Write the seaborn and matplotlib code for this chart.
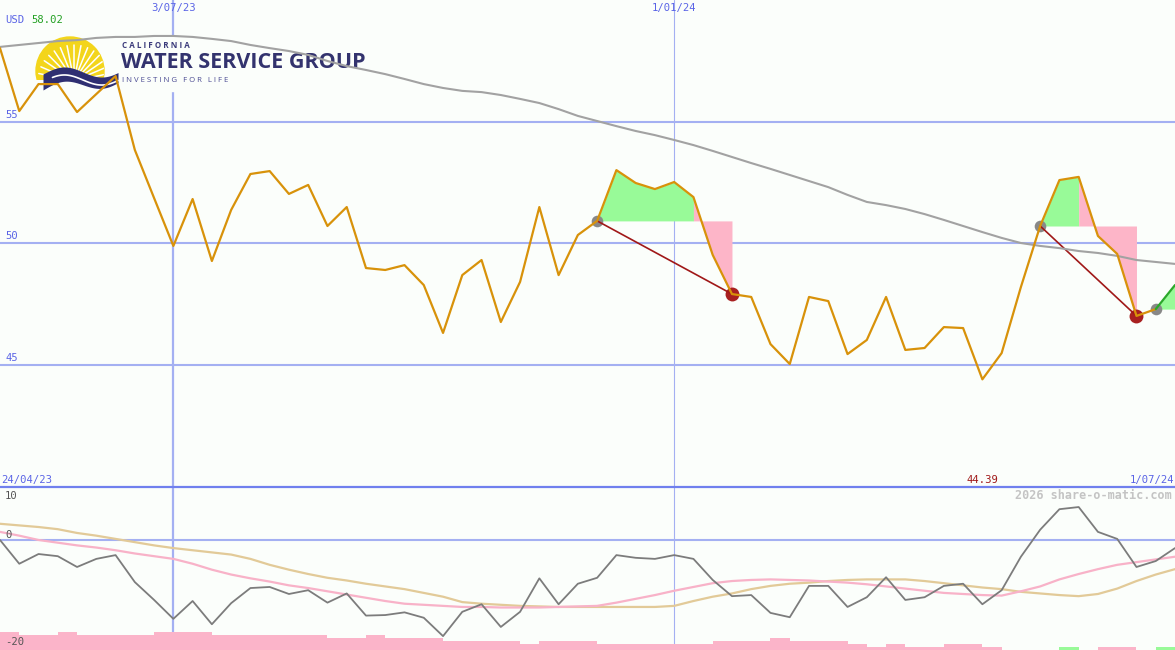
import matplotlib
matplotlib.use("Agg")
import matplotlib.pyplot as plt
import matplotlib.patches as mpatches
from matplotlib.transforms import Affine2D
import numpy as np
import pandas as pd
import seaborn as sns

sns.set_theme(style="white")
plt.rcParams['font.family'] = ['DejaVu Sans Mono', 'DejaVu Sans']

# weekly closes, first week starting 1 May 2023
start_date = "2023-05-01"
price = [58.02, 55.43, 56.54, 56.54, 55.39, 56.13, 56.87, 53.83, 51.85, 49.88,
         51.81, 49.26, 51.36, 52.84, 52.96, 52.02, 52.39, 50.70, 51.48, 48.97,
         48.89, 49.09, 48.27, 46.30, 48.68, 49.30, 46.75, 48.40, 51.48, 48.68,
         50.33, 50.91, 53.00, 52.47, 52.22, 52.51, 51.89, 49.51, 47.90, 47.78,
         45.84, 45.02, 47.78, 47.61, 45.43, 46.01, 47.78, 45.60, 45.68, 46.54,
         46.50, 44.39, 45.47, 48.19, 50.70, 52.59, 52.72, 50.29, 49.55, 47.00,
         47.28, 48.27]
price_ma = [58.07, 58.15, 58.23, 58.31, 58.35, 58.44, 58.48, 58.48, 58.52, 58.52,
            58.48, 58.40, 58.31, 58.15, 58.02, 57.90, 57.74, 57.49, 57.28, 57.12,
            56.95, 56.75, 56.54, 56.38, 56.26, 56.21, 56.09, 55.93, 55.76, 55.51,
            55.23, 55.02, 54.81, 54.61, 54.44, 54.24, 54.03, 53.79, 53.54, 53.29,
            53.05, 52.80, 52.55, 52.30, 51.98, 51.69, 51.56, 51.40, 51.19, 50.95,
            50.70, 50.45, 50.21, 50.00, 49.88, 49.79, 49.67, 49.59, 49.47, 49.30,
            49.22, 49.14]
osc = [0.0, -4.4, -2.6, -3.0, -5.0, -3.5, -2.8, -7.8, -11.1, -14.6,
       -11.3, -15.6, -11.7, -8.9, -8.7, -10.0, -9.3, -11.6, -9.9, -14.0,
       -13.9, -13.4, -14.4, -17.8, -13.3, -11.9, -16.1, -13.3, -7.1, -11.9,
       -8.1, -7.0, -2.8, -3.3, -3.5, -2.8, -3.5, -7.4, -10.4, -10.2,
       -13.5, -14.3, -8.5, -8.5, -12.4, -10.6, -6.9, -11.1, -10.6, -8.5,
       -8.1, -11.9, -9.3, -3.1, 1.9, 5.7, 6.1, 1.5, 0.2, -5.0,
       -3.9, -1.5]
osc_mid = [1.5, 0.8, 0.0, -0.5, -1.0, -1.4, -1.9, -2.5, -3.0, -3.5,
           -4.4, -5.5, -6.4, -7.1, -7.7, -8.4, -8.9, -9.5, -10.1, -10.7,
           -11.3, -11.8, -12.0, -12.2, -12.4, -12.4, -12.5, -12.5, -12.5, -12.4,
           -12.3, -12.2, -11.6, -10.9, -10.2, -9.4, -8.7, -8.0, -7.6, -7.4,
           -7.3, -7.4, -7.5, -7.7, -7.9, -8.2, -8.6, -9.0, -9.4, -9.8,
           -10.0, -10.2, -10.3, -9.5, -8.6, -7.3, -6.3, -5.4, -4.6, -4.1,
           -3.6, -3.1]
osc_slow = [3.0, 2.7, 2.4, 2.0, 1.3, 0.8, 0.2, -0.4, -1.0, -1.5,
            -1.9, -2.3, -2.7, -3.5, -4.6, -5.5, -6.3, -7.0, -7.5, -8.1,
            -8.6, -9.1, -9.8, -10.5, -11.5, -11.8, -12.0, -12.2, -12.3, -12.4,
            -12.4, -12.4, -12.4, -12.4, -12.4, -12.2, -11.3, -10.5, -9.9, -9.1,
            -8.5, -8.1, -7.9, -7.6, -7.4, -7.3, -7.3, -7.3, -7.6, -8.0,
            -8.4, -8.8, -9.1, -9.6, -9.9, -10.2, -10.4, -10.0, -9.0, -7.6,
            -6.4, -5.4]
# signal strength bars (negative = pink, positive = green)
signal = [-6, -5, -5, -6, -5, -5, -5, -5, -6, -6,
          -6, -5, -5, -5, -5, -5, -5, -4, -4, -5,
          -4, -4, -4, -3, -3, -3, -3, -2, -3, -3,
          -3, -2, -2, -2, -2, -2, -2, -3, -3, -3,
          -4, -3, -3, -3, -2, -1, -2, -1, -1, -2,
          -2, -1, 0, 0, 0, 1, 0, -1, -1, 0,
          1, 0]

trades = [(31, 38), (54, 59)]   # entry week, exit week
open_entry = 60

marked_dates = ["2023-07-03", "2024-01-01"]
marked_labels = ["3/07/23", "1/01/24"]
first_label = "24/04/23"
last_label = "1/07/24"
price_ticks = [45, 50, 55]
osc_ticks = [10, 0, -20]
currency = "USD"

weeks = np.arange(len(price))
df = pd.DataFrame({"week": weeks, "price": price, "ma": price_ma,
                   "osc": osc, "mid": osc_mid, "slow": osc_slow, "signal": signal})

bg = "#fbfefb"
grid_c = "#a4b0f2"
label_c = "#5a64e6"
fs = 7.6

fig = plt.figure(figsize=(11.75, 6.5), dpi=100, facecolor=bg)
# pixel transform (x from left, y from top)
px = Affine2D().scale(1 / 1175, -1 / 650).translate(0, 1) + fig.transFigure

ax = fig.add_axes([0, 163 / 650, 1, 487 / 650])
ax.set_axis_off()
ax.set_xlim(0, len(price) - 1)
ax.set_ylim(39.96, 60.0)

ax2 = fig.add_axes([0, 0, 1, 163 / 650])
ax2.set_axis_off()
ax2.set_xlim(0, len(price) - 1)
ax2.set_ylim(-20.37, 9.81)

start = pd.Timestamp(start_date)
marked_x = [(pd.Timestamp(d) - start).days / 7 for d in marked_dates]

# grid
for p in price_ticks:
    ax.axhline(p, color=grid_c, lw=1.5, zorder=1)
    ax.text(0.27, p + 0.08, str(p), color=label_c, fontsize=fs, va="bottom", ha="left")
for x, lab, w in zip(marked_x, marked_labels, [1.6, 0.8]):
    ax.axvline(x, color=grid_c, lw=w, zorder=1)
    ax2.axvline(x, color=grid_c, lw=w, zorder=1)
    ax.text(x, 0.984, lab, transform=ax.get_xaxis_transform(), color=label_c,
            fontsize=fs, ha="center", va="center")
ax2.axhline(0, color=grid_c, lw=1.5, zorder=1)

# logo (drawn behind the series)
ax.add_patch(mpatches.Rectangle((30, 36), 345, 55, transform=px, color=bg, zorder=1.5))
sun = mpatches.Circle((70, 71), 34, transform=px, color="#f3d51b", zorder=1.6)
ax.add_patch(sun)
clip = mpatches.Rectangle((30, 30), 100, 50, transform=px)
sun.set_clip_path(clip)
for a in np.linspace(12, 168, 15):
    t = np.radians(a)
    ray, = ax.plot([74 + 9 * np.cos(t), 74 + 36 * np.cos(t)],
                   [81 - 9 * np.sin(t), 81 - 36 * np.sin(t)],
                   transform=px, color="white", lw=1.1, zorder=1.7)
    ray.set_clip_path(sun)
wx = np.linspace(43, 118, 80)
wave = 74 - 6 * np.sin(np.pi * (wx - 43) / 40) - (wx - 43) * 0.05
ax.fill_between(wx, wave, wave + 16 - (wx - 43) * 0.08, transform=px, color="#2f2f72",
                lw=0, zorder=1.8)
ax.plot(wx[10:], wave[10:] + 8, transform=px, color="white", lw=1.2, zorder=1.9)
ax.text(122, 46, "C A L I F O R N I A", transform=px, color="#3b3b7b",
        fontsize=5.8, fontweight="bold", family="Open Sans", va="center", ha="left", zorder=1.8)
ax.text(121, 63, "WATER SERVICE GROUP", transform=px, color="#33336e",
        fontsize=15.5, fontweight="bold", family="Open Sans", va="center", ha="left", zorder=1.8)
ax.text(122, 81, "I N V E S T I N G   F O R   L I F E", transform=px, color="#4a4a92",
        fontsize=5.6, family="Open Sans", va="center", ha="left", zorder=1.8)

# trades: gain / loss shading, entry to exit link
for a, b in trades:
    level = price[a]
    split = max(i for i in range(a, b + 1) if price[i] >= level)
    seg = df.iloc[a:split + 1]
    ax.fill_between(seg["week"], seg["price"], level, color="#98fa98", lw=0, zorder=2)
    seg = df.iloc[split:b + 1]
    ax.fill_between(seg["week"], seg["price"], level, color="#fdb5c8", lw=0, zorder=2)
    ax.scatter([a], [price[a]], s=70, color="#888888", zorder=3, lw=0)
    ax.scatter([b], [price[b]], s=100, color="#a82020", zorder=3, lw=0)
    ax.plot([a, b], [price[a], price[b]], color="#a01818", lw=1.2, zorder=4)

seg = df.iloc[open_entry:]
ax.fill_between(seg["week"], seg["price"], price[open_entry], color="#98fa98", lw=0, zorder=2)
ax.scatter([open_entry], [price[open_entry]], s=70, color="#888888", zorder=3, lw=0)

sns.lineplot(data=df, x="week", y="ma", ax=ax, color="#a2a2a2", lw=1.5, zorder=4)
sns.lineplot(data=df.iloc[:open_entry + 1], x="week", y="price", ax=ax,
             color="#d8920a", lw=1.6, zorder=5)
sns.lineplot(data=df.iloc[open_entry:], x="week", y="price", ax=ax,
             color="#2aa82a", lw=1.6, zorder=5)

# text labels
ax.text(0.27, 0.959, currency, transform=ax.get_xaxis_transform(), color=label_c,
        fontsize=fs, va="center", ha="left")
ax.text(1.6, 0.959, f"{price[0]:.2f}", transform=ax.get_xaxis_transform(), color="#22a022",
        fontsize=fs, va="center", ha="left")
low = int(np.argmin(price))
ax.text(low, 0.0144, f"{price[low]:.2f}", transform=ax.get_xaxis_transform(),
        color="#a01818", fontsize=fs, va="center", ha="center")
ax.text(0.05, 0.0144, first_label, transform=ax.get_xaxis_transform(), color=label_c,
        fontsize=fs, va="center", ha="left")
ax.text(len(price) - 1.05, 0.0144, last_label, transform=ax.get_xaxis_transform(),
        color=label_c, fontsize=fs, va="center", ha="right")

# lower panel
colors = ["#fbb4c9" if s < 0 else "#98fa98" for s in signal]
ax2.bar(df["week"], df["signal"].abs() * 0.57, bottom=-20.37, width=1, align="edge",
        color=colors, lw=0, zorder=1)
sns.lineplot(data=df, x="week", y="slow", ax=ax2, color="#e2ca98", lw=1.6, zorder=2)
sns.lineplot(data=df, x="week", y="mid", ax=ax2, color="#f8b2c8", lw=1.6, zorder=2)
sns.lineplot(data=df, x="week", y="osc", ax=ax2, color="#7c7c7c", lw=1.3, zorder=3)
for v, yy in zip(osc_ticks, [8.1, 0.9, -18.9]):
    ax2.text(0.27, yy, str(v), color="#555555", fontsize=fs, va="center", ha="left")
ax2.text(len(price) - 1.15, 0.945, "2026 share-o-matic.com", transform=ax2.get_xaxis_transform(),
         color="#c4c4c4", fontsize=8.5, fontweight="bold", va="center", ha="right")

# panel divider
fig.add_artist(plt.Line2D([0, 1], [1 - 487 / 650] * 2, transform=fig.transFigure,
                          color="#7080ee", lw=1.6))

fig.savefig("out.png", dpi=100, facecolor=bg)
